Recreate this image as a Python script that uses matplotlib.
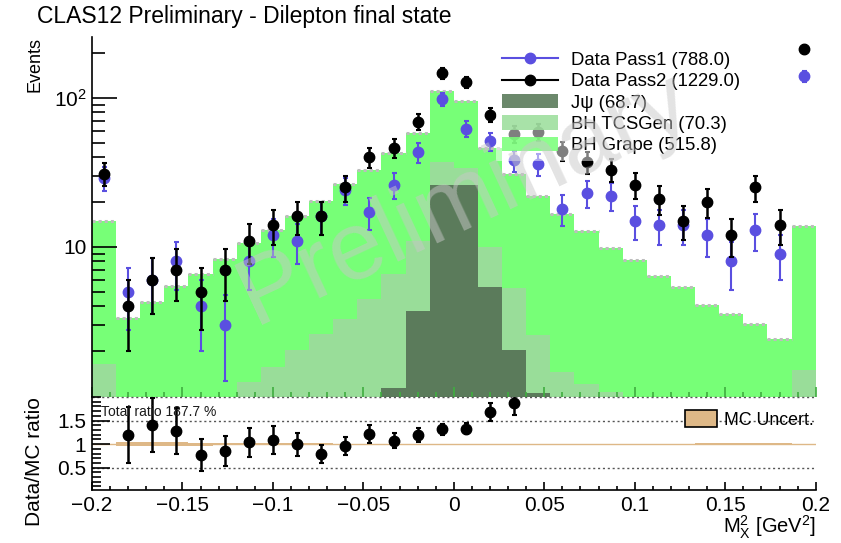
import numpy as np
import matplotlib
matplotlib.use('Agg')
import matplotlib.pyplot as plt
from matplotlib.lines import Line2D
from matplotlib.patches import Patch
from matplotlib.ticker import FixedLocator, MultipleLocator, FuncFormatter, NullFormatter

plt.rcParams['font.family'] = ['Liberation Sans', 'DejaVu Sans']
plt.rcParams['mathtext.fontset'] = 'custom'
plt.rcParams['mathtext.rm'] = 'Liberation Sans'
plt.rcParams['mathtext.default'] = 'regular'

# 30 bins in M_X^2 from -0.2 to 0.2
edges = np.linspace(-0.2, 0.2, 31)
centers = 0.5 * (edges[:-1] + edges[1:])

# data counts per bin
pass1 = [29, 5, 6, 8, 4, 3, 8, 12, 11, 16, 24, 17, 26, 43, 98, 62, 51, 38, 36, 18,
         23, 22, 15, 14, 14, 12, 8, 13, 9, 140]
pass2 = [31, 4, 6, 7, 5, 7, 11, 14, 16, 16, 25, 40, 46, 69, 146, 127, 77, 57, 59, 44,
         37, 33, 26, 21, 15, 20, 12, 25, 14, 212]

# MC (stacked: J/psi, BH TCSGen, BH Grape)
jpsi = [0, 0, 0, 0, 0, 0, 0, 0, 0.1, 0.3, 0.5, 0.8, 1.14, 3.72, 25.9, 25.9, 5.39, 2.05, 1.04, 0.8,
        0.5, 0.3, 0.2, 0, 0, 0, 0, 0, 0, 0]
bh_tcsgen = [1.65, 0.8, 0.85, 0.9, 0.95, 0.98, 1.24, 1.57, 1.95, 2.32, 2.76, 3.7, 5.39, 7.18, 11.3, 7.7,
             4.61, 3.28, 1.54, 0.66, 0.7, 0.77, 0.7, 0.9, 0.9, 0.85, 0.8, 0.75, 0.7, 1.5]
bh_grape = [13.25, 2.56, 3.4, 4.55, 5.61, 7.32, 9.36, 11.33, 14.05, 17.68, 22.94, 28.5, 36.27, 46.8,
            74.2, 61.9, 35.8, 25.27, 19.42, 15.24, 11.5, 8.78, 7.24, 5.46, 4.49, 3.25, 2.77, 2.31, 1.71, 12.3]
# relative MC uncertainty (half width of band in ratio)
mc_unc = [0.01, 0.04, 0.04, 0.04, 0.03, 0.02, 0.02, 0.02, 0.02, 0.015, 0.01, 0.008, 0.005, 0.005, 0.005,
          0.005, 0.005, 0.005, 0.01, 0.01, 0.012, 0.012, 0.012, 0.012, 0.012, 0.015, 0.02, 0.02, 0.02, 0.005]

legend_labels = ['Data Pass1 (788.0)', 'Data Pass2 (1229.0)', 'J\u03c8 (68.7)',
                 'BH TCSGen (70.3)', 'BH Grape (515.8)']

c_blue = '#5a4fe0'
c_jpsi = '#5b7b5b'
c_tcs = '#99dd99'
c_grape = '#77ff77'
c_unc = '#deb887'

pass1 = np.array(pass1, float)
pass2 = np.array(pass2, float)
s1 = np.array(jpsi)
s2 = s1 + np.array(bh_tcsgen)
s3 = s2 + np.array(bh_grape)

W, H = 841, 543
fig = plt.figure(figsize=(W / 100, H / 100), dpi=100)

x0, x1 = 92, 815.7
ax1 = fig.add_axes([x0 / W, 1 - 397 / H, (x1 - x0) / W, (397 - 37.3) / H])
ax2 = fig.add_axes([x0 / W, 1 - 490 / H, (x1 - x0) / W, (490 - 397) / H])

# ---- top panel
ax1.set_yscale('log')
ax1.set_xlim(-0.2, 0.2)
ax1.set_ylim(0.985, 254)
ax1.stairs(np.clip(s3, 1e-3, None), edges, baseline=1e-3, fill=True, color=c_grape, zorder=1)
ax1.stairs(np.clip(s2, 1e-3, None), edges, baseline=1e-3, fill=True, color=c_tcs, zorder=1.1)
ax1.stairs(np.clip(s1, 1e-3, None), edges, baseline=1e-3, fill=True, color=c_jpsi, zorder=1.2)
ax1.hlines(s3, edges[:-1], edges[1:], colors='#bdbdbd', linestyles=(0, (1, 1)), lw=2.2, zorder=1.3)

ax1.errorbar(centers, pass1, yerr=np.sqrt(pass1), fmt='o', color=c_blue, ms=7.5,
             elinewidth=1.5, capsize=1.8, capthick=1.5, zorder=3)
ax1.errorbar(centers, pass2, yerr=np.sqrt(pass2), fmt='o', color='black', ms=7.5,
             elinewidth=1.8, capsize=1.8, capthick=1.5, zorder=3.1)

for sp in ['top', 'right', 'bottom']:
    ax1.spines[sp].set_visible(False)
ax1.spines['left'].set_linewidth(1.2)
ax1.yaxis.set_major_locator(FixedLocator([10, 100]))
ax1.yaxis.set_minor_locator(FixedLocator([2, 3, 4, 5, 6, 7, 8, 9, 20, 30, 40, 50, 60, 70, 80, 90, 200]))
ax1.yaxis.set_major_formatter(FuncFormatter(lambda v, p: '10' if v < 50 else '$10^2$'))
ax1.yaxis.set_minor_formatter(NullFormatter())
ax1.tick_params(axis='y', which='major', direction='in', length=18, width=1.2, labelsize=15, pad=4)
ax1.tick_params(axis='y', which='minor', direction='in', length=9, width=1.2)
ax1.xaxis.set_major_locator(MultipleLocator(0.05))
ax1.xaxis.set_minor_locator(MultipleLocator(0.01))
ax1.tick_params(axis='x', which='both', direction='in', color='#3fae3f', labelbottom=False)
ax1.tick_params(axis='x', which='major', length=7, width=1.2)
ax1.tick_params(axis='x', which='minor', length=3.5, width=1.2)

handles = [Line2D([], [], color=c_blue, marker='o', ms=7.5, lw=1.5),
           Line2D([], [], color='black', marker='o', ms=7.5, lw=1.5),
           Patch(facecolor=c_jpsi, alpha=0.9),
           Patch(facecolor=c_tcs, alpha=0.85),
           Patch(facecolor=c_grape, alpha=0.85)]
leg = ax1.legend(handles, legend_labels, loc='upper left', bbox_to_anchor=(0.558, 0.978),
                 borderaxespad=0, borderpad=0.35, fontsize=13.3, handlelength=3.03, handleheight=0.81,
                 handletextpad=0.71, labelspacing=0.2, frameon=True, fancybox=False)
leg.get_frame().set_facecolor('white')
leg.get_frame().set_alpha(0.5)
leg.get_frame().set_linewidth(0)

ax1.text(0.515, 0.55, 'Preliminary', transform=ax1.transAxes, rotation=25, fontsize=70,
         color='#c8c8c8', alpha=0.5, ha='center', va='center', zorder=10)

# ---- ratio panel
ax2.set_xlim(-0.2, 0.2)
ax2.set_ylim(0.025, 2.0)
unc = np.array(mc_unc)
ax2.stairs(1 + unc, edges, baseline=1 - unc, fill=True, color=c_unc, zorder=1)
ax2.axhline(1, color=c_unc, lw=1, zorder=1)
for yv in [0.5, 1.5, 2.0]:
    ax2.axhline(yv, color='#555555', ls=(0, (1.5, 2)), lw=1, clip_on=False, zorder=0.5)

ratio = pass2 / s3
rerr = np.sqrt(pass2) / s3
m = ratio <= 2.0
ax2.errorbar(centers[m], ratio[m], yerr=rerr[m], fmt='o', color='black', ms=7.5,
             elinewidth=1.8, capsize=1.8, capthick=1.5, zorder=3)

for sp in ['top', 'right']:
    ax2.spines[sp].set_visible(False)
ax2.spines['left'].set_linewidth(1.2)
ax2.spines['bottom'].set_linewidth(1.2)
ax2.xaxis.set_major_locator(MultipleLocator(0.05))
ax2.xaxis.set_minor_locator(MultipleLocator(0.01))
ax2.xaxis.set_major_formatter(FuncFormatter(lambda v, p: ('%g' % round(v, 3)).replace('-', '\u2212')))
ax2.tick_params(axis='x', which='major', direction='in', length=6, width=1.2, labelsize=15, pad=4)
ax2.tick_params(axis='x', which='minor', direction='in', length=3, width=1.2)
ax2.yaxis.set_major_locator(FixedLocator([0.5, 1.0, 1.5]))
ax2.yaxis.set_minor_locator(MultipleLocator(0.1))
ax2.yaxis.set_major_formatter(FuncFormatter(lambda v, p: '%g' % v))
ax2.tick_params(axis='y', which='major', direction='in', length=13, width=1.2, labelsize=15, pad=4)
ax2.tick_params(axis='y', which='minor', direction='in', length=6.5, width=1.2)

ax2.text(0.013, 0.84, 'Total ratio 187.7 %', transform=ax2.transAxes, fontsize=10,
         color='#1a1a1a', va='center', ha='left')
leg2 = ax2.legend([Patch(facecolor=c_unc, edgecolor='black', lw=1.2)], ['MC Uncert.'],
                  loc='upper right', bbox_to_anchor=(1.0, 0.88), borderaxespad=0, borderpad=0.1,
                  fontsize=12.8, handlelength=1.8, handleheight=1.1, handletextpad=0.4, frameon=False)

# ---- labels
fig.text(37 / W, 1 - 22.7 / H, 'CLAS12 Preliminary - Dilepton final state', fontsize=16.5, va='baseline')
fig.text(35 / W, 1 - 37 / H, 'Events', rotation=90, ha='center', va='top', fontsize=13)
fig.text(34 / W, 1 - 462 / H, 'Data/MC ratio', rotation=90, ha='center', va='center', fontsize=15)
fig.text(x1 / W, 1 - 533 / H, 'M$_X^2$ [GeV$^2$]', ha='right', va='baseline', fontsize=14.5)

fig.savefig('out.png', dpi=100)
